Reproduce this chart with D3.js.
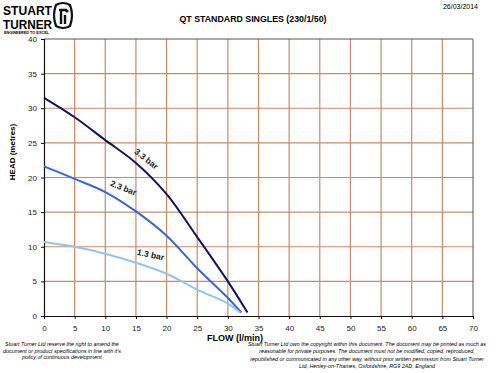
<!DOCTYPE html>
<html>
<head>
<meta charset="utf-8">
<script src="https://cdn.jsdelivr.net/npm/d3@7"></script>
<style>
body { margin: 0; background: #fff; }
svg { font-family: "Liberation Sans", Arial, sans-serif; }
.tick text { font-size: 8px; fill: #222; }
</style>
</head>
<body>
<svg id="chart" width="500" height="373"></svg>
<script>
// curve data (flow l/min, head metres)
var flow33 = [0, 5, 10, 15, 20, 25, 30, 33.2];
var head33 = [31.5, 28.7, 25.4, 22.1, 17.6, 11.4, 5.0, 0.5];
var flow23 = [0, 5, 10, 15, 20, 25, 30, 32.2];
var head23 = [21.6, 19.8, 17.9, 15.1, 11.6, 6.9, 2.6, 0.5];
var flow13 = [0, 5, 10, 15, 20, 25, 30, 32];
var head13 = [10.7, 10.0, 9.0, 7.7, 6.1, 3.8, 1.8, 0.5];
var seriesNames = ["3.3 bar", "2.3 bar", "1.3 bar"];
var seriesColors = ["#14145e", "#3a66d4", "#93c3ee"];
var xTicks = d3.range(0, 71, 5);
var yTicks = d3.range(0, 41, 5);

var svg = d3.select('#chart');
var plotLeft = 44, plotRight = 473, plotTop = 39, plotBottom = 316;

var xScale = d3.scaleLinear().domain([0, 70]).range([plotLeft, plotRight]);
var yScale = d3.scaleLinear().domain([0, 40]).range([plotBottom, plotTop]);

// grid
var grid = svg.append('g');
grid.selectAll('line.v').data(xTicks.slice(1, -1)).enter().append('line')
    .attr('x1', d => xScale(d)).attr('x2', d => xScale(d))
    .attr('y1', plotTop).attr('y2', plotBottom)
    .attr('stroke', '#c98a68').attr('stroke-width', 1.2);
grid.selectAll('line.h').data(yTicks.slice(1, -1)).enter().append('line')
    .attr('x1', plotLeft).attr('x2', plotRight)
    .attr('y1', d => yScale(d)).attr('y2', d => yScale(d))
    .attr('stroke', '#c98a68').attr('stroke-width', 1.2);

// top and right border
svg.append('path')
    .attr('d', 'M' + plotLeft + ',' + plotTop + 'H' + plotRight + 'V' + plotBottom)
    .attr('fill', 'none').attr('stroke', '#555').attr('stroke-width', 1);

var xAxis = svg.append('g')
    .attr('transform', 'translate(0,' + plotBottom + ')')
    .call(d3.axisBottom(xScale).tickValues(xTicks).tickSize(3).tickPadding(6));
var yAxis = svg.append('g')
    .attr('transform', 'translate(' + plotLeft + ',0)')
    .call(d3.axisLeft(yScale).tickValues(yTicks).tickSize(3).tickPadding(4));
svg.selectAll('.domain').attr('stroke', '#111').attr('stroke-width', 1.2);
svg.selectAll('.tick line').attr('stroke', '#111');

// curves
var allFlow = [flow33, flow23, flow13];
var allHead = [head33, head23, head13];
var line = d3.line()
    .x(d => xScale(d[0]))
    .y(d => yScale(d[1]))
    .curve(d3.curveCatmullRom);

allFlow.forEach(function (f, i) {
    var pts = f.map((v, j) => [v, allHead[i][j]]);
    svg.append('path')
        .attr('d', line(pts))
        .attr('fill', 'none')
        .attr('stroke', seriesColors[i])
        .attr('stroke-width', 2);
});

// curve labels
var labelPos = [[16.1, 22.0, 38], [12.6, 17.7, 22], [17.2, 8.0, 12]];
seriesNames.forEach(function (name, i) {
    var p = labelPos[i];
    svg.append('text')
        .attr('transform', 'translate(' + xScale(p[0]) + ',' + yScale(p[1]) + ') rotate(' + p[2] + ')')
        .attr('text-anchor', 'middle')
        .attr('dy', '-0.35em')
        .style('font-size', '8.5px')
        .style('font-weight', 'bold')
        .style('fill', '#222')
        .text(name);
});

// axis titles
svg.append('text')
    .attr('x', 235).attr('y', 341)
    .attr('text-anchor', 'middle')
    .style('font-size', '9px').style('font-weight', 'bold')
    .text('FLOW (l/min)');
svg.append('text')
    .attr('transform', 'translate(15,152) rotate(-90)')
    .attr('text-anchor', 'middle')
    .style('font-size', '8px').style('font-weight', 'bold')
    .text('HEAD (metres)');

// title and date
svg.append('text')
    .attr('x', 253).attr('y', 22)
    .attr('text-anchor', 'middle')
    .style('font-size', '8.8px').style('font-weight', 'bold')
    .text('QT STANDARD SINGLES (230/1/50)');
svg.append('text')
    .attr('x', 478).attr('y', 9)
    .attr('text-anchor', 'end')
    .style('font-size', '7px')
    .text('26/03/2014');

// logo
var logo = svg.append('g');
logo.append('text').attr('x', 3).attr('y', 15)
    .attr('textLength', 49).attr('lengthAdjust', 'spacingAndGlyphs')
    .style('font-size', '13px').style('font-weight', 'bold')
    .text('STUART');
logo.append('text').attr('x', 3).attr('y', 28.5)
    .attr('textLength', 49).attr('lengthAdjust', 'spacingAndGlyphs')
    .style('font-size', '13px').style('font-weight', 'bold')
    .text('TURNER');
logo.append('text').attr('x', 4).attr('y', 33.5)
    .attr('textLength', 45).attr('lengthAdjust', 'spacingAndGlyphs')
    .style('font-size', '3.6px').style('font-weight', 'bold')
    .text('ENGINEERED TO EXCEL');
logo.append('path')
    .attr('d', 'M56,5 Q63,1 70,5 Q74,15 70,26 Q63,30 56,26 Q52,15 56,5 Z')
    .attr('fill', 'none').attr('stroke', '#111').attr('stroke-width', 2.2);
logo.append('path')
    .attr('d', 'M59,10 H67 M61,10 V24 M65,15 V24')
    .attr('fill', 'none').attr('stroke', '#111').attr('stroke-width', 2.4);
logo.append('circle').attr('cx', 67).attr('cy', 11).attr('r', 1.6).attr('fill', '#111');

// footnotes
var leftNote = ["Stuart Turner Ltd reserve the right to amend the",
    "document or product specifications in line with it's",
    "policy of continuous development"];
var rightNote = ["Stuart Turner Ltd own the copyright within this document. The document may be printed as much as",
    "reasonable for private purposes. The document must not be modified, copied, reproduced,",
    "republished or communicated in any other way, without prior written permission from Stuart Turner",
    "Ltd, Henley-on-Thames, Oxfordshire, RG9 2AD, England"];
svg.selectAll('text.ln').data(leftNote).enter().append('text')
    .attr('x', 62).attr('y', (d, i) => 346 + i * 6.6)
    .attr('text-anchor', 'middle')
    .style('font-size', '5.4px').style('font-style', 'italic')
    .text(d => d);
svg.selectAll('text.rn').data(rightNote).enter().append('text')
    .attr('x', 367).attr('y', (d, i) => 346 + i * 7.4)
    .attr('text-anchor', 'middle')
    .style('font-size', '5.4px').style('font-style', 'italic')
    .text(d => d);
</script>
</body>
</html>
